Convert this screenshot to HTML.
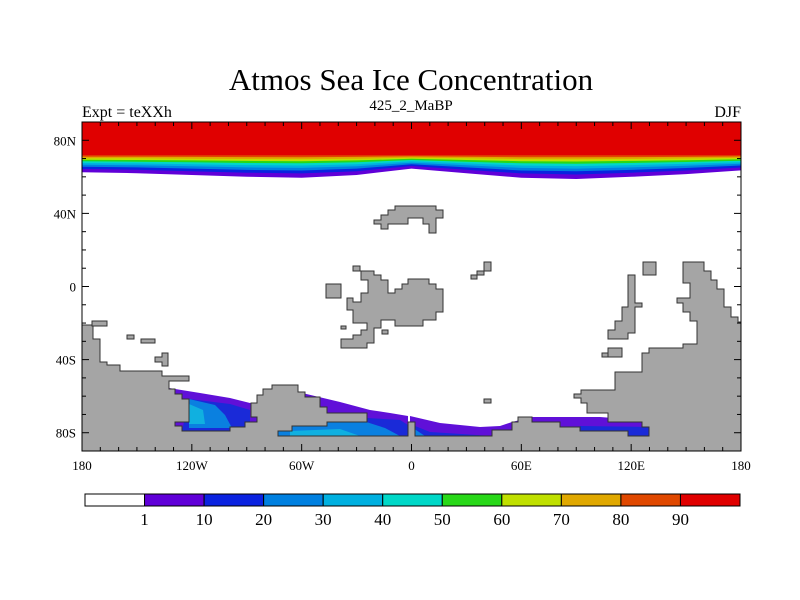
<!DOCTYPE html>
<html><head><meta charset="utf-8"><style>
html,body{margin:0;padding:0;background:#fff;}
svg{display:block;font-family:"Liberation Serif",serif;}
</style></head><body>
<svg id="chart" width="800" height="600" viewBox="0 0 800 600">
<text x="411" y="90" font-size="31" text-anchor="middle">Atmos Sea Ice Concentration</text>
<text x="411" y="110" font-size="15" text-anchor="middle">425_2_MaBP</text>
<text x="82" y="117" font-size="16">Expt = teXXh</text>
<text x="741" y="117" font-size="16" text-anchor="end">DJF</text>
<g id="arctic"></g>
<g id="south">
<polygon points="169,388 200,393 230,398 250,403 257,403 257,431 175,431" fill="#6010d8"/>
<polygon points="189,399 230,404 250,410 250,431 182,431" fill="#1a2ad8"/>
<polygon points="189,399 215,405 225,415 232,428 189,428" fill="#0a80e0"/>
<polygon points="189,404 203,410 205,424 189,424" fill="#10b0e0"/>
<polygon points="298,392 340,402 370,410 390,413 408,416 408,436 278,436 278,425" fill="#6010d8"/>
<polygon points="298,410 330,414 367,418 400,420 408,425 408,436 278,436 278,425" fill="#1a2ad8"/>
<polygon points="278,428 320,423 360,420 385,428 400,436 278,436" fill="#0a80e0"/>
<polygon points="290,431 340,429 360,436 290,436" fill="#10b0e0"/>
<polygon points="410,416 440,423 480,427 500,426 512,422 532,417 600,417 640,420 649,427 649,436 410,436" fill="#6010d8"/>
<polygon points="410,424 430,432 492,436 410,436" fill="#1a2ad8"/>
<polygon points="410,426 425,436 410,436" fill="#0a80e0"/>
<polygon points="580,426 649,427 649,436 580,436" fill="#1a2ad8"/>
</g>
<g id="land" fill="#a5a5a5" stroke="#333" stroke-width="1">
<polygon points="82,325 93,325 93,339 100,339 100,362 107,362 107,365 120,365 120,371 162,371 162,376 189,376 189,381 169,381 169,389 175,389 175,394 182,394 182,399 189,399 189,422 175,422 175,426 182,426 182,431 230,431 230,427 245,427 245,422 257,422 257,417 251,417 251,403 257,403 257,395 263,395 263,389 272,389 272,385 298,385 298,392 305,392 305,397 320,397 320,407 327,407 327,413 367,413 367,422 327,422 327,426 292,426 292,431 278,431 278,436 408,436 408,422 415,422 415,436 492,436 492,430 512,430 512,422 518,422 518,417 532,417 532,422 560,422 560,427 580,427 580,431 628,431 628,436 649,436 649,427 642,427 642,422 608,422 608,413 587,413 587,403 581,403 581,398 574,398 574,394 581,394 581,390 615,390 615,372 642,372 642,353 649,353 649,348 683,348 683,344 697,344 697,321 690,321 690,312 683,312 683,303 677,303 677,298 690,298 690,283 683,283 683,262 704,262 704,271 711,271 711,280 717,280 717,289 724,289 724,307 731,307 731,317 738,317 738,322 741,322 741,451 82,451"/>
<polygon points="374,220 374,224 381,224 381,229 388,229 388,224 408,224 408,218 423,218 423,224 429,224 429,233 436,233 436,218 443,218 443,210 436,210 436,206 395,206 395,210 388,210 388,215 381,215 381,220"/>
<polygon points="361,271 374,271 374,275 381,275 381,280 388,280 388,293 395,293 395,289 402,289 402,284 408,284 408,279 429,279 429,284 436,284 436,289 443,289 443,312 436,312 436,320 423,320 423,326 395,326 395,320 381,320 381,328 374,328 374,343 367,343 367,348 341,348 341,339 353,339 353,335 361,335 361,330 367,330 367,323 353,323 353,310 347,310 347,298 353,298 353,302 361,302 361,293 368,293 368,280 361,280"/>
<rect x="353" y="266" width="7" height="5"/>
<rect x="326" y="284" width="15" height="14"/>
<rect x="341" y="326" width="5" height="3"/>
<rect x="382" y="330" width="6" height="4"/>
<rect x="471" y="275" width="6" height="4"/>
<rect x="477" y="271" width="7" height="4"/>
<rect x="484" y="262" width="7" height="9"/>
<rect x="643" y="262" width="13" height="13"/>
<polygon points="628,275 635,275 635,303 642,303 642,307 635,307 635,333 628,333 628,339 608,339 608,330 615,330 615,321 622,321 622,307 628,307"/>
<rect x="608" y="348" width="14" height="9"/>
<rect x="602" y="353" width="6" height="4"/>
<rect x="484" y="399" width="7" height="4"/>
<rect x="92" y="321" width="15" height="5"/>
<rect x="127" y="335" width="7" height="4"/>
<rect x="141" y="339" width="14" height="4"/>
<polygon points="162,353 168,353 168,366 162,366 162,362 155,362 155,357 162,357"/>
</g>
<rect x="82" y="122" width="659" height="329" fill="none" stroke="#000" stroke-width="1"/>
<g id="ticks" stroke="#000" stroke-width="1"></g>
<g id="labels" font-size="13"></g>
<g id="colorbar"></g>
</svg>
<script>
const levels = ["1","10","20","30","40","50","60","70","80","90"];
const barColors = ["#ffffff","#6000d8","#0a22e0","#0080e0","#00b0e0","#00d8c8","#28d818","#c0e000","#e0a800","#e04800","#e00000"];
const lonTicks = ["180","120W","60W","0","60E","120E","180"];
const latTicks = ["80N","40N","0","40S","80S"];
const latValues = [80,40,0,-40,-80];
const lonValues = [-180,-120,-60,0,60,120,180];
// Arctic ice edge latitude (deg) by longitude
const edgeLon = [-180,-150,-120,-90,-60,-30,0,30,60,90,120,150,180];
const edgeLat = [62.5,62,61,60,59.5,61,64.5,62,59.5,58.8,60,61.5,63.5];
const ns="http://www.w3.org/2000/svg";
const X0=82,X1=741,Y0=122,Y1=451;
const xs=lon=>X0+(lon+180)/360*(X1-X0);
const ys=lat=>Y0+(90-lat)/180*(Y1-Y0);
function mk(t,a,p){const e=document.createElementNS(ns,t);for(const k in a)e.setAttribute(k,a[k]);p.appendChild(e);return e;}
const arc=document.getElementById('arctic');
const iceCols=barColors.slice(1);
const redLat=71.8;
for(let k=0;k<iceCols.length;k++){
  const f=k/(iceCols.length-1);
  let d="M"+X0+","+Y0+" L"+X1+","+Y0;
  for(let i=edgeLon.length-1;i>=0;i--){
    const lat=edgeLat[i]+(redLat-edgeLat[i])*Math.pow(f,0.75);
    d+=" L"+xs(edgeLon[i]).toFixed(1)+","+ys(lat).toFixed(1);
  }
  const p=mk('path',{d:d+"Z",fill:iceCols[k]},arc);
  
  
}
const tg=document.getElementById('ticks');
for(let lon=-180;lon<=180;lon+=10){
  const L=(lon%60===0)?7:4,x=xs(lon);
  mk('line',{x1:x,y1:Y0,x2:x,y2:Y0+L},tg);
  mk('line',{x1:x,y1:Y1,x2:x,y2:Y1-L},tg);
}
for(let lat=-90;lat<=90;lat+=10){
  const L=(lat%40===0)?7:4,y=ys(lat);
  mk('line',{x1:X0,y1:y,x2:X0+L,y2:y},tg);
  mk('line',{x1:X1,y1:y,x2:X1-L,y2:y},tg);
}
const lg=document.getElementById('labels');
lonTicks.forEach((t,i)=>{const e=mk('text',{x:xs(lonValues[i]),y:470,'text-anchor':'middle'},lg);e.textContent=t;

});
latTicks.forEach((t,i)=>{const e=mk('text',{x:76,y:ys(latValues[i])+5,'text-anchor':'end'},lg);e.textContent=t;

});
const cb=document.getElementById('colorbar');
const bx0=85,bx1=740,bw=(bx1-bx0)/barColors.length;
barColors.forEach((c,i)=>{const r=mk('rect',{x:bx0+i*bw,y:494,width:bw,height:12,fill:c,stroke:'#000','stroke-width':1},cb);

});
levels.forEach((t,i)=>{const e=mk('text',{x:bx0+(i+1)*bw,y:525,'text-anchor':'middle','font-size':17},cb);e.textContent=t;

});
</script>
</body></html>
